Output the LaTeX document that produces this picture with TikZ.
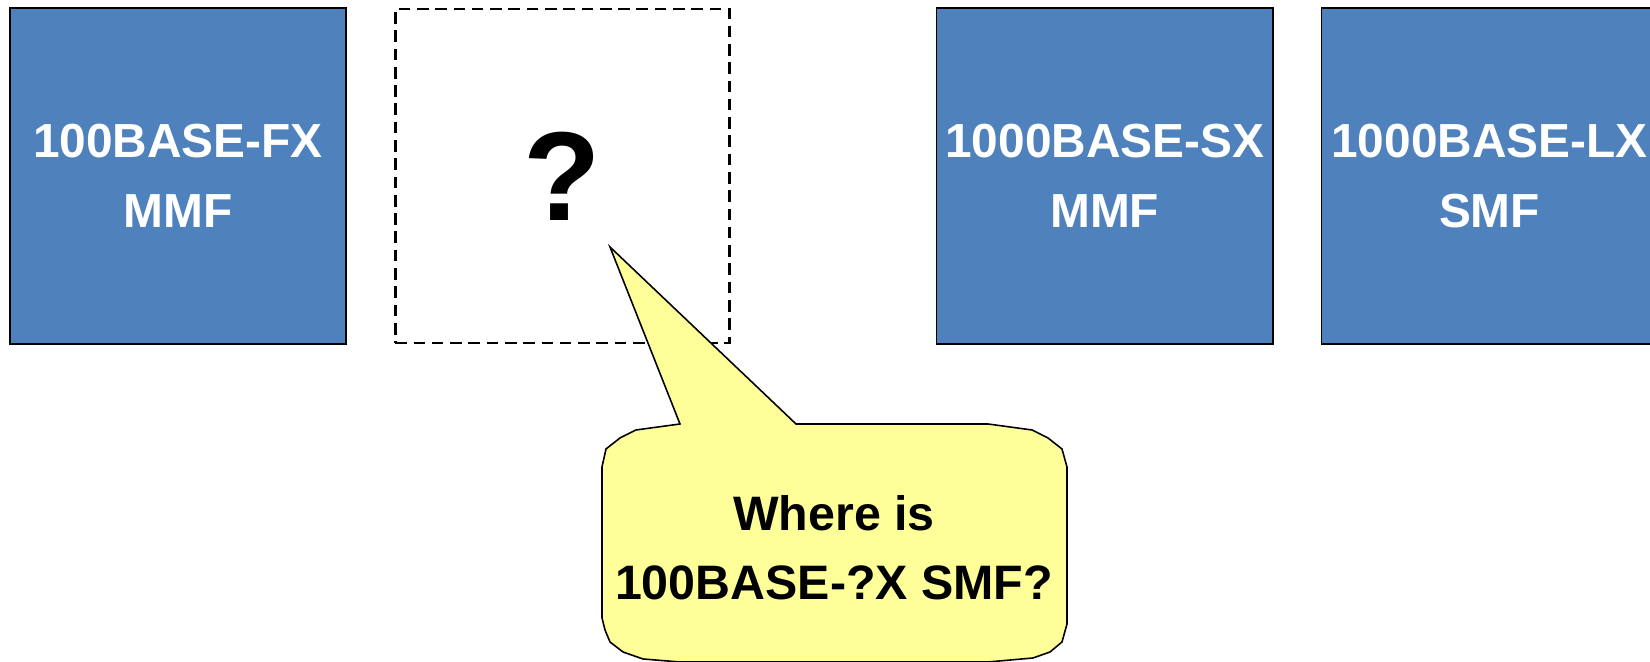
\documentclass[tikz,border=0pt]{standalone}
\usepackage{fontspec}
\setmainfont{Liberation Sans}
\usetikzlibrary{positioning}

\definecolor{boxblue}{HTML}{4F81BD}
\definecolor{noteyellow}{HTML}{FFFF99}

\begin{document}
\begin{tikzpicture}[
    x=0.01cm, y=-0.01cm,
    node distance=0.48cm,
    fiberbox/.style={rectangle, draw=black, line width=0.45pt, fill=boxblue,
        minimum width=3.36cm, minimum height=3.36cm, inner sep=0pt,
        text=white, align=center, font=\bfseries\fontsize{13.6}{19.9}\selectfont},
    emptybox/.style={rectangle, draw=black, dash pattern=on 3.3pt off 1.9pt,
        line width=0.75pt, minimum width=3.34cm, minimum height=3.34cm, inner sep=0pt},
    bubble/.style={draw=black, line width=0.45pt, fill=noteyellow}
    ]
    \clip (0,0) rectangle (1650,662);
    \useasboundingbox (0,0) rectangle (1650,662);

    % Nodes
    \node[fiberbox] (fx) at (178,176) {100BASE-FX\\MMF};
    \node[emptybox] (gap) [right=0.47cm of fx] {};
    \node at (gap) {\bfseries\fontsize{36}{36}\selectfont ?};
    \node[fiberbox] (sx) [right=2.05cm of gap] {1000BASE-SX\\MMF};
    \node[fiberbox] (lx) [right=0.47cm of sx] {1000BASE-LX\\SMF};

    % Speech bubble pointing at the empty slot
    \coordinate (tip) at (610,247);
    \draw[bubble] (tip) -- (680,424) -- (636,430) -- (620,438) -- (606,449)
        -- (602,467) -- (602,618) -- (605,630) -- (610,642) -- (623,652)
        -- (643,659) -- (680,662) -- (988,662) -- (1033,658) -- (1050,652)
        -- (1062,642) -- (1067,624) -- (1067,467) -- (1062,449) -- (1048,438)
        -- (1032,430) -- (988,424) -- (796,424) -- cycle;
    \node[align=center, font=\bfseries\fontsize{13.75}{19.7}\selectfont] (ask)
        at (834,548) {Where is\\100BASE-?X SMF?};
\end{tikzpicture}
\end{document}
